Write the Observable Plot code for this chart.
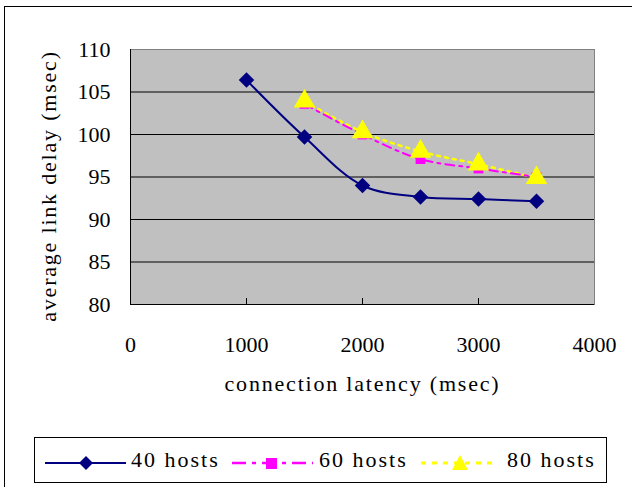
<!DOCTYPE html>
<html><head><meta charset="utf-8">
<script src="https://cdn.jsdelivr.net/npm/d3@7"></script>
<script src="https://cdn.jsdelivr.net/npm/@observablehq/plot@0.6"></script>
<style>
body{margin:0;background:#fff;}
#wrap{position:relative;width:632px;height:487px;overflow:hidden;font-family:"Liberation Serif","Times New Roman",Times,"DejaVu Serif",serif;}
#outer{position:absolute;left:4px;top:6px;width:660px;height:520px;border:1px solid #000;}
#legend{position:absolute;left:34px;top:437px;width:571px;height:44px;border:1px solid #000;background:#fff;}
#legend .t{position:absolute;top:7px;font-size:22px;letter-spacing:2px;line-height:30px;}
#legend svg{position:absolute;left:0;top:0;}
svg{overflow:visible}
</style></head>
<body><div id="wrap"><div id="outer"></div><div id="chart"></div><div id="legend"></div></div>
<script>
const latency = [1000, 1500, 2000, 2500, 3000, 3500];
const hosts40 = [106.4, 99.7, 94.0, 92.65, 92.4, 92.15];
const latency2 = [1500, 2000, 2500, 3000, 3500];
const hosts60 = [103.6, 100.0, 97.1, 96.0, 95.0];
const hosts80 = [103.9, 100.3, 98.0, 96.5, 94.9];
const xTicks = [0, 1000, 2000, 3000, 4000];
const yTicks = [80, 85, 90, 95, 100, 105, 110];
const seriesNames = ["40 hosts", "60 hosts", "80 hosts"];

const d40 = latency.map((x, i) => ({x, y: hosts40[i]}));
const d60 = latency2.map((x, i) => ({x, y: hosts60[i]}));
const d80 = latency2.map((x, i) => ({x, y: hosts80[i]}));

const font = '"Liberation Serif","Times New Roman",Times,"DejaVu Serif",serif';
const chart = Plot.plot({
  width: 632, height: 487,
  marginLeft: 130, marginRight: 38, marginTop: 49, marginBottom: 183,
  style: {fontFamily: font, fontSize: "22px", color: "#000", background: "transparent"},
  x: {domain: [0, 4000]},
  y: {domain: [80, 110]},
  marks: [
    Plot.frame({fill: "#c0c0c0", stroke: "#808080"}),
    Plot.ruleY(yTicks.filter(d => d > 80 && d < 110), {stroke: "#000", strokeWidth: 1}),
    Plot.ruleX(xTicks.filter(d => d > 0 && d < 4000), {y1: 80, y2: 80, insetTop: -6, stroke: "#000"}),
    Plot.ruleX([0], {stroke: "#000"}),
    Plot.ruleY([80], {stroke: "#000"}),
    Plot.axisX({ticks: xTicks, tickSize: 0, tickPadding: 32, tickFormat: d => String(d), label: null, fontSize: 22, fontFamily: font}),
    Plot.axisY({ticks: yTicks, tickSize: 0, tickPadding: 20, tickFormat: d => String(d), label: null, fontSize: 22, fontFamily: font}),
    Plot.line(d80, {x: "x", y: "y", stroke: "#ffff00", strokeWidth: 2.5, strokeDasharray: "3,5", curve: "catmull-rom"}),
    Plot.line(d60, {x: "x", y: "y", stroke: "#ff00ff", strokeWidth: 2, strokeDasharray: "9,5,3,5", curve: "catmull-rom"}),
    Plot.line(d40, {x: "x", y: "y", stroke: "#000080", strokeWidth: 2, curve: "catmull-rom"}),
    Plot.dot(d60, {x: "x", y: "y", symbol: "square", r: 5.5, fill: "#ff00ff", stroke: "none"}),
    Plot.dot(d80, {x: "x", y: "y", symbol: "triangle", r: 8, fill: "#ffff00", stroke: "none"}),
    Plot.dot(d40, {x: "x", y: "y", symbol: "diamond2", r: 7, fill: "#000080", stroke: "none"}),
    Plot.text(["average link delay (msec)"], {frameAnchor: "left", dx: -82, dy: 9, rotate: -90, textAnchor: "middle", fontSize: 22, fontFamily: font, fill: "#000"}),
    Plot.text(["connection latency (msec)"], {frameAnchor: "bottom", dy: 86, textAnchor: "middle", fontSize: 22, fontFamily: font, fill: "#000"})
  ]
});
chart.querySelectorAll("text").forEach(t => { if (/msec/.test(t.textContent)) t.setAttribute("letter-spacing", "1.8px"); });
document.getElementById("chart").appendChild(chart);

// legend
const leg = document.getElementById("legend");
const ns = "http://www.w3.org/2000/svg";
const ls = document.createElementNS(ns, "svg");
ls.setAttribute("width", 571); ls.setAttribute("height", 44);
ls.innerHTML =
  `<line x1="10" x2="91" y1="25" y2="25" stroke="#000080" stroke-width="2"/>` +
  `<path d="M51,18 L58,25 L51,32 L44,25 Z" fill="#000080"/>` +
  `<line x1="197" x2="278" y1="25" y2="25" stroke="#ff00ff" stroke-width="2.5" stroke-dasharray="14,6,4,6"/>` +
  `<rect x="231" y="20" width="11" height="11" fill="#ff00ff"/>` +
  `<line x1="386" x2="462" y1="25" y2="25" stroke="#ffff00" stroke-width="3" stroke-dasharray="5,6"/>` +
  `<path d="M425,17 L433,32 L417,32 Z" fill="#ffff00"/>`;
leg.appendChild(ls);
const textX = [96, 284, 472];
seriesNames.forEach((n, i) => {
  const s = document.createElement("div");
  s.className = "t"; s.style.left = textX[i] + "px"; s.textContent = n;
  leg.appendChild(s);
});
</script></body></html>
